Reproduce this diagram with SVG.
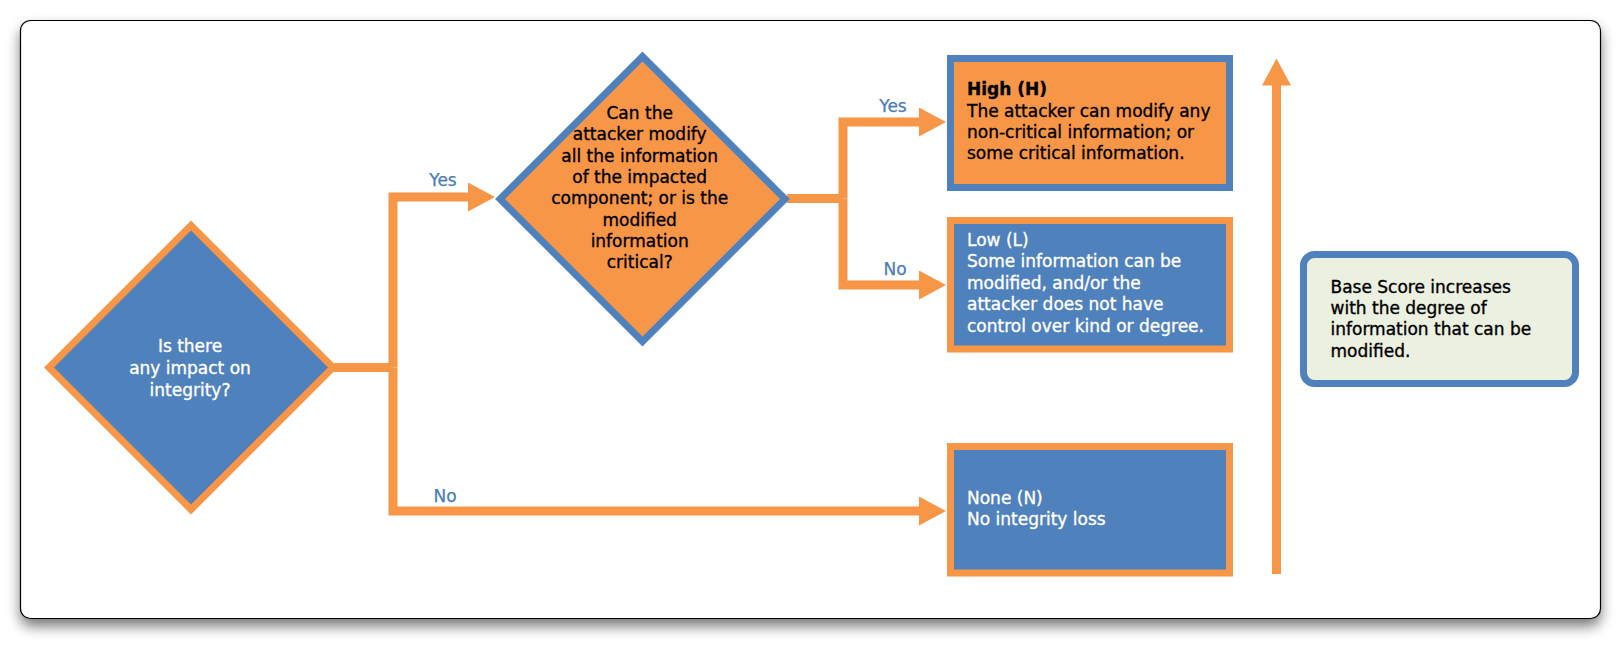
<svg xmlns="http://www.w3.org/2000/svg" width="1621" height="655" viewBox="0 0 1621 655">
<defs>
<filter id="sh" x="-5%" y="-10%" width="110%" height="130%"><feGaussianBlur stdDeviation="7"/></filter>
<marker id="ah" viewBox="0 0 27 29" refX="5" refY="14.5" markerWidth="27" markerHeight="29" markerUnits="userSpaceOnUse" orient="auto"><path d="M0,0 L27,14.5 L0,29 Z" fill="#F79646"/></marker>
</defs>
<style>
.conn{fill:none;stroke:#F79646;stroke-width:9;stroke-linejoin:miter}
.t{font-family:"DejaVu Sans",Verdana,sans-serif;font-size:17px;stroke-width:0.35}
.w{fill:#fff;stroke:#fff}
.k{fill:#000;stroke:#000}
.mid{text-anchor:middle}
.lbl{font-family:"DejaVu Sans",sans-serif;font-size:17px;fill:#4A7DB8;stroke:#4A7DB8;stroke-width:0.25;text-anchor:middle}
</style>
<rect x="20.5" y="28" width="1580" height="598" rx="10" fill="#000" opacity="0.55" filter="url(#sh)"/>
<rect x="20.5" y="20.5" width="1580" height="598" rx="10" fill="#fff" stroke="#000" stroke-width="1.2"/>
<g id="connectors">
<path class="conn" d="M334,367.5 H393"/>
<path class="conn" d="M393,367.5 V197 H473" marker-end="url(#ah)"/>
<path class="conn" d="M393,367.5 V511 H924" marker-end="url(#ah)"/>
<path class="conn" d="M787,198.5 H843"/>
<path class="conn" d="M843,198.5 V122 H924" marker-end="url(#ah)"/>
<path class="conn" d="M843,198.5 V285 H924" marker-end="url(#ah)"/>
<path class="conn" d="M1276.5,574 V80.5" marker-end="url(#ah)"/>
<text class="lbl" x="443" y="186">Yes</text>
<text class="lbl" x="445" y="502">No</text>
<text class="lbl" x="893" y="112">Yes</text>
<text class="lbl" x="895" y="275">No</text>
</g>
<g id="q1">
<polygon points="191,225.5 333,367.5 191,509.5 49,367.5" fill="#4F81BD" stroke="#F79646" stroke-width="7"/>
<text class="t w mid"><tspan x="190" y="352">Is there</tspan><tspan x="190" y="374">any impact on</tspan><tspan x="190" y="396">integrity?</tspan></text>
</g>
<g id="q2">
<polygon points="642.5,56.5 785,199 642.5,341.5 500,199" fill="#F79646" stroke="#4F81BD" stroke-width="7"/>
<text class="t k mid"><tspan x="639.7" y="119.1">Can the</tspan><tspan x="639.7" y="140.4">attacker modify</tspan><tspan x="639.7" y="161.7">all the information</tspan><tspan x="639.7" y="183">of the impacted</tspan><tspan x="639.7" y="204.3">component; or is the</tspan><tspan x="639.7" y="225.6">modified</tspan><tspan x="639.7" y="246.9">information</tspan><tspan x="639.7" y="268.2">critical?</tspan></text>
</g>
<g id="high">
<rect x="950.5" y="58.5" width="279" height="129" fill="#F79646" stroke="#4F81BD" stroke-width="7"/>
<text class="t k"><tspan x="967" y="95" font-weight="bold">High (H)</tspan><tspan x="967" y="116.5">The attacker can modify any</tspan><tspan x="967" y="137.7">non-critical information; or</tspan><tspan x="967" y="158.7">some critical information.</tspan></text>
</g>
<g id="low">
<rect x="950.5" y="220.5" width="279" height="128.5" fill="#4F81BD" stroke="#F79646" stroke-width="7"/>
<text class="t w"><tspan x="967" y="245.5">Low (L)</tspan><tspan x="967" y="267">Some information can be</tspan><tspan x="967" y="288.5">modified, and/or the</tspan><tspan x="967" y="310">attacker does not have</tspan><tspan x="967" y="331.5">control over kind or degree.</tspan></text>
</g>
<g id="none">
<rect x="950.5" y="446.5" width="279" height="126.5" fill="#4F81BD" stroke="#F79646" stroke-width="7"/>
<text class="t w"><tspan x="967" y="503.5">None (N)</tspan><tspan x="967" y="525">No integrity loss</tspan></text>
</g>
<g id="note">
<rect x="1303.5" y="254.5" width="272" height="129" rx="11" fill="#EBF0E0" stroke="#4F81BD" stroke-width="7"/>
<text class="t k"><tspan x="1330.5" y="292.5">Base Score increases</tspan><tspan x="1330.5" y="314">with the degree of</tspan><tspan x="1330.5" y="335.3">information that can be</tspan><tspan x="1330.5" y="356.5">modified.</tspan></text>
</g>
</svg>
